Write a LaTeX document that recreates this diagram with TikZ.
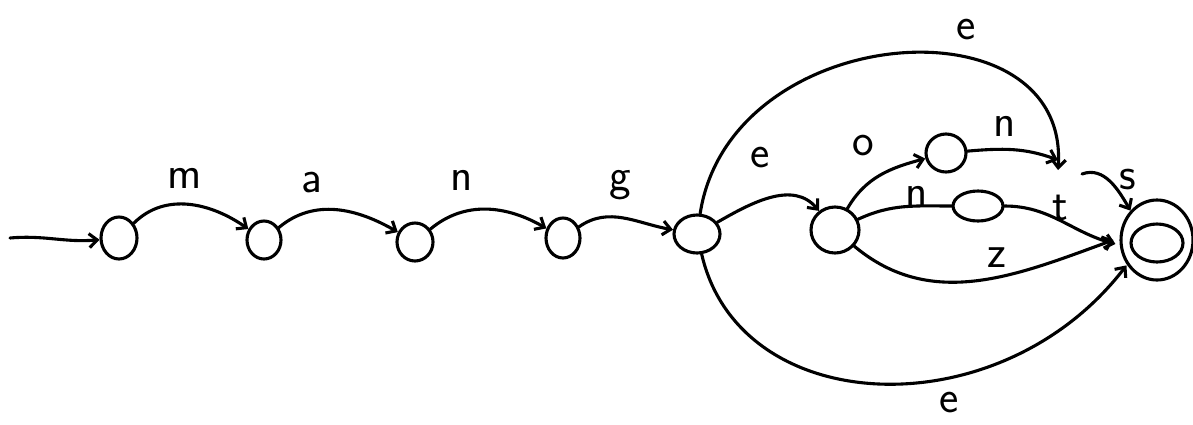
\documentclass[tikz,border=0pt]{standalone}
\usetikzlibrary{arrows.meta,shapes.geometric}
\begin{document}
\begin{tikzpicture}[x=1pt,y=-1pt,
  line width=3.1pt, line cap=round, line join=round,
  state/.style={draw, ellipse, inner sep=0pt},
  lbl/.style={font=\sffamily\fontsize{46}{46}\selectfont, inner sep=0pt},
  edge/.style={-{Straight Barb[length=8pt,width=14pt]}},
]
\useasboundingbox (0,0) rectangle (1193,424);
\coordinate (start) at (10,238);
\node[state, minimum width=36, minimum height=42] (q0) at (119,238) {};
\node[state, minimum width=34, minimum height=38] (q1) at (264,240) {};
\node[state, minimum width=36, minimum height=38] (q2) at (415,242) {};
\node[state, minimum width=34, minimum height=40] (q3) at (563,238) {};
\node[state, minimum width=46, minimum height=38] (q4) at (697,234) {};
\node[state, minimum width=48, minimum height=46] (q5) at (835,230) {};
\node[state, minimum width=40, minimum height=38] (q6) at (946,153) {};
\node[state, minimum width=50, minimum height=30] (q7) at (978,206) {};
\node[state, minimum width=72, minimum height=80] (fin) at (1157,240) {};
\node[state, minimum width=52, minimum height=38] (fininner) at (1157,243) {};
\coordinate (P) at (1058,160);
\coordinate (Pout) at (1082,174);

\draw[edge] (start) to[out=5,in=185] (q0);
\draw[edge] (q0) to[out=45,in=145] (q1);
\draw[edge] (q1) to[out=40,in=150] (q2);
\draw[edge] (q2) to[out=40,in=150] (q3);
\draw[edge] (q3) to[out=35,in=170] (q4);
\draw[edge] (q4) to[out=30,in=130] (q5);
\draw[edge] (q5) to[out=60,in=195] (q6);
\draw (q5) to[out=25,in=180] (q7);
\draw[edge] (q5) to[out=-40,in=200] ([xshift=-6pt]fin.west);
\draw[edge] (q7) to[out=0,in=165] ([xshift=-4pt,yshift=-4pt]fin.west);
\draw[edge] (q6) to[out=5,in=160] (P);
\draw[edge] (q4) .. controls (730,20) and (1070,-4) .. ([yshift=-10pt]P);
\draw[edge] (Pout) to[out=20,in=120] (fin.north west);
\draw[edge] (q4) .. controls (740,420) and (1000,430) .. ([xshift=-4pt,yshift=4pt]fin.south west);

\node[lbl] (lm) at (185,178) {m};
\node[lbl] (la) at (312,183) {a};
\node[lbl] (ln) at (462,180) {n};
\node[lbl] (lg) at (620,185) {g};
\node[lbl] (le1) at (760,158) {e};
\node[lbl] (lo) at (863,146) {o};
\node[lbl] (ln2) at (1005,126) {n};
\node[lbl] (ln3) at (917,196) {n};
\node[lbl] (lt) at (1060,208) {t};
\node[lbl] (ls) at (1128,180) {s};
\node[lbl] (lz) at (997,258) {z};
\node[lbl] (letop) at (966,30) {e};
\node[lbl] (lebot) at (949,403) {e};
\end{tikzpicture}
\end{document}
